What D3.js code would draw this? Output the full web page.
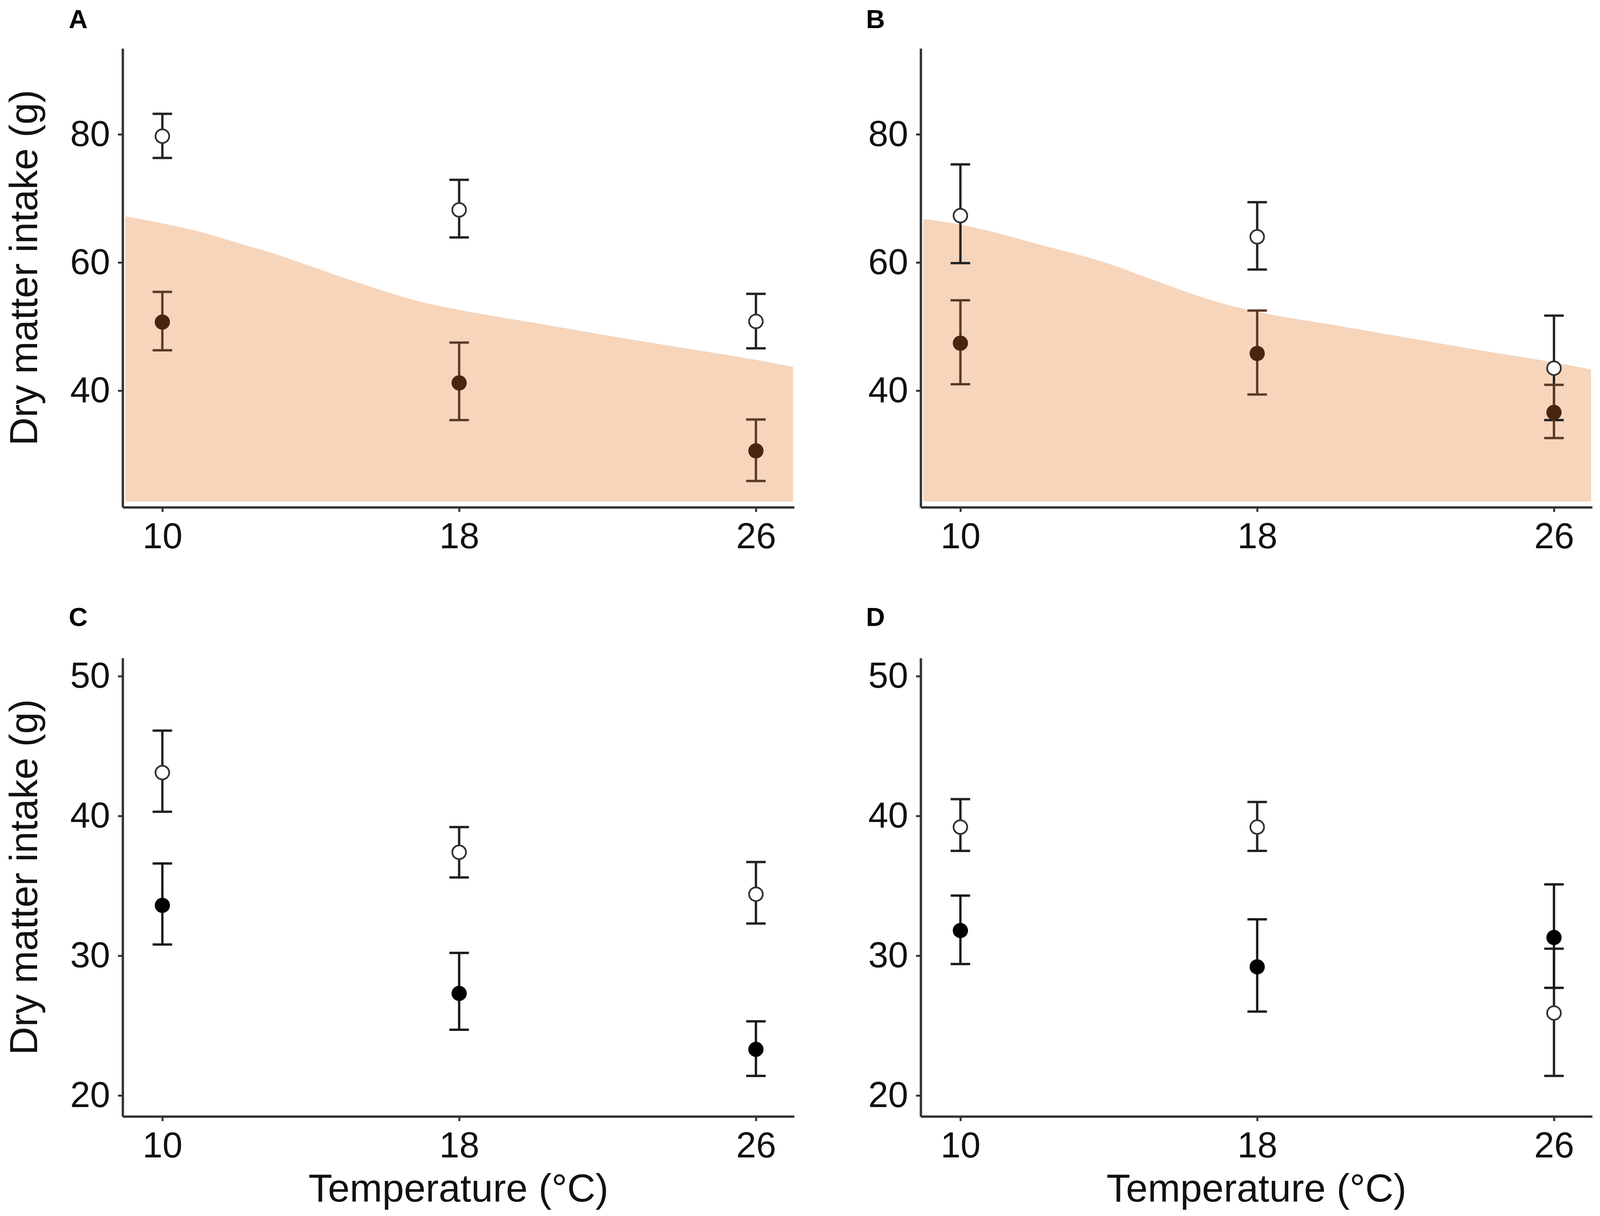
<!DOCTYPE html>
<html>
<head>
<meta charset="utf-8">
<script src="https://cdn.jsdelivr.net/npm/d3@7"></script>
<style>
  html, body { margin: 0; padding: 0; background: #fff; }
  svg { display: block; font-family: "Liberation Sans", Arial, sans-serif; }
</style>
</head>
<body>
<div id="chart"></div>
<script>
// Temperatures on the x axis
const temps = [10, 18, 26];

// Each point: [mean, lower, upper]
const openA = [[79.7, 76.3, 83.2], [68.2, 63.9, 72.9], [50.8, 46.6, 55.1]];
const filledA = [[50.7, 46.3, 55.4], [41.2, 35.4, 47.5], [30.6, 25.9, 35.5]];
const openB = [[67.3, 59.9, 75.3], [64.0, 58.9, 69.4], [43.5, 35.4, 51.7]];
const filledB = [[47.4, 41.0, 54.1], [45.8, 39.4, 52.5], [36.6, 32.6, 40.9]];
const openC = [[43.1, 40.3, 46.1], [37.4, 35.6, 39.2], [34.4, 32.3, 36.7]];
const filledC = [[33.6, 30.8, 36.6], [27.3, 24.7, 30.2], [23.3, 21.4, 25.3]];
const openD = [[39.2, 37.5, 41.2], [39.2, 37.5, 41.0], [25.9, 21.4, 30.5]];
const filledD = [[31.8, 29.4, 34.3], [29.2, 26.0, 32.6], [31.3, 27.7, 35.1]];

// Shaded band (panels A and B)
const ribbonTemps = [9, 10, 11, 12, 13, 14, 15, 16, 17, 18, 20, 22, 24, 26, 27];
const ribbonUpperA = [67.2, 66.1, 64.8, 63.1, 61.4, 59.4, 57.4, 55.5, 53.8, 52.6, 50.6, 48.6, 46.7, 44.8, 43.7];
const ribbonUpperB = [66.8, 65.9, 64.6, 63.0, 61.5, 59.8, 57.7, 55.6, 53.7, 52.3, 50.3, 48.3, 46.3, 44.4, 43.3];
const ribbonLower = 22.7;

// Tick labels
const xTicks = [10, 18, 26];
const yTicksTop = [40, 60, 80];
const yTicksBottom = [20, 30, 40, 50];

const COLORS = {
  ribbon: "#f6d5bb",
  brown: "#4a2410",
  brownBar: "#5a3a27",
  black: "#000",
  blackBar: "#1a1a1a",
  openBar: "#222",
  openStroke: "#333",
  axis: "#333",
  text: "#111",
};

const CONFIG = {
  width: 4099,
  height: 3114,
  xDomain: [8.93, 27.03],
  tickFont: 92,
  titleFont: 100,
  labelFont: 67,
  pointRadius: 18,
  capHalf: 25,
  barWidth: 6,
};

const panels = [
  { id: "A", x0: 314, x1: 2033, y0: 124, y1: 1299, yDomain: [21.8, 93.4], yTicks: yTicksTop,
    open: openA, filled: filledA, ribbon: ribbonUpperA, fill: COLORS.brown, bar: COLORS.brownBar,
    yTitle: true, xTitle: false, labelX: 176, labelY: 72 },
  { id: "B", x0: 2357, x1: 4076, y0: 124, y1: 1299, yDomain: [21.8, 93.4], yTicks: yTicksTop,
    open: openB, filled: filledB, ribbon: ribbonUpperB, fill: COLORS.brown, bar: COLORS.brownBar,
    yTitle: false, xTitle: false, labelX: 2217, labelY: 72 },
  { id: "C", x0: 314, x1: 2033, y0: 1685, y1: 2859, yDomain: [18.5, 51.3], yTicks: yTicksBottom,
    open: openC, filled: filledC, ribbon: null, fill: COLORS.black, bar: COLORS.blackBar,
    yTitle: true, xTitle: true, labelX: 176, labelY: 1603 },
  { id: "D", x0: 2357, x1: 4076, y0: 1685, y1: 2859, yDomain: [18.5, 51.3], yTicks: yTicksBottom,
    open: openD, filled: filledD, ribbon: null, fill: COLORS.black, bar: COLORS.blackBar,
    yTitle: false, xTitle: true, labelX: 2217, labelY: 1603 },
];

const svg = d3.select("#chart")
  .append("svg")
  .attr("width", CONFIG.width)
  .attr("height", CONFIG.height);

svg.append("rect")
  .attr("width", CONFIG.width)
  .attr("height", CONFIG.height)
  .attr("fill", "#fff");

panels.forEach(drawPanel);

/**
 * Draw one panel: band, error bars, points and axes
 */
function drawPanel(p) {
  const g = svg.append("g").attr("class", "panel-" + p.id);

  const x = d3.scaleLinear().domain(CONFIG.xDomain).range([p.x0, p.x1]);
  const y = d3.scaleLinear().domain(p.yDomain).range([p.y1, p.y0]);

  // Shaded band
  if (p.ribbon) {
    const area = d3.area()
      .x((d, i) => x(ribbonTemps[i]))
      .y0(() => y(ribbonLower))
      .y1((d) => y(d))
      .curve(d3.curveMonotoneX);
    g.append("path")
      .datum(p.ribbon)
      .attr("d", area)
      .attr("fill", COLORS.ribbon);
  }

  // Error bars
  const series = [
    { data: p.open, color: COLORS.openBar },
    { data: p.filled, color: p.bar },
  ];
  series.forEach((s) => {
    const bars = g.append("g")
      .selectAll("g")
      .data(s.data)
      .enter()
      .append("g")
      .attr("stroke", s.color)
      .attr("stroke-width", CONFIG.barWidth);

    bars.append("line")
      .attr("x1", (d, i) => x(temps[i]))
      .attr("x2", (d, i) => x(temps[i]))
      .attr("y1", (d) => y(d[1]))
      .attr("y2", (d) => y(d[2]));

    [1, 2].forEach((k) => {
      bars.append("line")
        .attr("x1", (d, i) => x(temps[i]) - CONFIG.capHalf)
        .attr("x2", (d, i) => x(temps[i]) + CONFIG.capHalf)
        .attr("y1", (d) => y(d[k]))
        .attr("y2", (d) => y(d[k]));
    });
  });

  // Points
  g.append("g")
    .selectAll("circle")
    .data(p.open)
    .enter()
    .append("circle")
    .attr("cx", (d, i) => x(temps[i]))
    .attr("cy", (d) => y(d[0]))
    .attr("r", CONFIG.pointRadius - 0.5)
    .attr("fill", "#fff")
    .attr("stroke", COLORS.openStroke)
    .attr("stroke-width", 4.5);

  g.append("g")
    .selectAll("circle")
    .data(p.filled)
    .enter()
    .append("circle")
    .attr("cx", (d, i) => x(temps[i]))
    .attr("cy", (d) => y(d[0]))
    .attr("r", CONFIG.pointRadius + 1.5)
    .attr("fill", p.fill);

  // Axes
  const xAxis = g.append("g")
    .attr("transform", `translate(0,${p.y1})`)
    .call(d3.axisBottom(x).tickValues(xTicks).tickSize(12).tickSizeOuter(0).tickPadding(28));

  const yAxis = g.append("g")
    .attr("transform", `translate(${p.x0},0)`)
    .call(d3.axisLeft(y).tickValues(p.yTicks).tickSize(12).tickSizeOuter(0).tickPadding(20));

  [xAxis, yAxis].forEach((axis) => {
    axis.select(".domain").attr("stroke", COLORS.axis).attr("stroke-width", 6);
    axis.selectAll(".tick line").attr("stroke", COLORS.axis).attr("stroke-width", 5);
    axis.selectAll(".tick text")
      .attr("fill", COLORS.text)
      .style("font-size", CONFIG.tickFont + "px")
      .style("font-family", '"Liberation Sans", Arial, sans-serif');
  });

  // Titles
  if (p.yTitle) {
    g.append("text")
      .attr("transform", `translate(60,${(p.y0 + p.y1) / 2 - 26}) rotate(-90)`)
      .attr("text-anchor", "middle")
      .attr("dominant-baseline", "central")
      .attr("fill", COLORS.text)
      .style("font-size", CONFIG.titleFont + "px")
      .text("Dry matter intake (g)");
  }
  if (p.xTitle) {
    g.append("text")
      .attr("x", (p.x0 + p.x1) / 2)
      .attr("y", 3077)
      .attr("text-anchor", "middle")
      .attr("fill", COLORS.text)
      .style("font-size", CONFIG.titleFont + "px")
      .text("Temperature (°C)");
  }

  // Panel letter
  g.append("text")
    .attr("x", p.labelX)
    .attr("y", p.labelY)
    .attr("fill", "#000")
    .style("font-size", CONFIG.labelFont + "px")
    .style("font-weight", 700)
    .text(p.id);
}
</script>
</body>
</html>
